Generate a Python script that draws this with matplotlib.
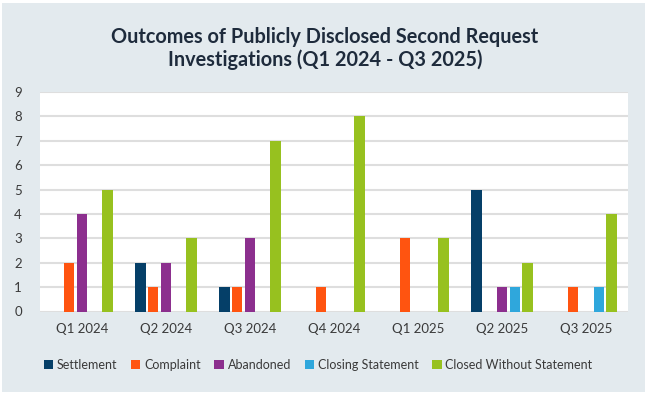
import matplotlib
matplotlib.use("Agg")
import matplotlib.pyplot as plt
import numpy as np
from matplotlib.patches import Rectangle

quarters = ["Q1 2024", "Q2 2024", "Q3 2024", "Q4 2024", "Q1 2025", "Q2 2025", "Q3 2025"]
settlement = [0, 2, 1, 0, 0, 5, 0]
complaint = [2, 1, 1, 1, 3, 0, 1]
abandoned = [4, 2, 3, 0, 0, 1, 0]
closing_statement = [0, 0, 0, 0, 0, 1, 1]
closed_without = [5, 3, 7, 8, 3, 2, 4]

series_names = ["Settlement", "Complaint", "Abandoned", "Closing Statement", "Closed Without Statement"]
series_vals = [settlement, complaint, abandoned, closing_statement, closed_without]
colors = ["#053f68", "#ff5410", "#8c2f8e", "#2fa7dc", "#97c11f"]

plt.rcParams['font.family'] = ['Lato', 'DejaVu Sans']

fig = plt.figure(figsize=(6.5, 3.95), dpi=100, facecolor="white")
bg = "#e3eaee"
fig.patches.append(Rectangle((2/650, 1-392/395), (645-2)/650, (392-3)/395,
                             transform=fig.transFigure, facecolor=bg, edgecolor="none", zorder=-10))

ax = fig.add_axes([40/650, 1-311.5/395, 588/650, (311.5-92)/395])
ax.set_facecolor("white")

x = np.arange(len(quarters))
slot = 0.152
width = 0.123
for i, (name, vals, c) in enumerate(zip(series_names, series_vals, colors)):
    ax.bar(x + (i - 2) * slot, vals, width=width, color=c, label=name, zorder=3)

ax.set_xlim(-0.5, 6.5)
ax.set_ylim(0, 9)
ax.set_yticks(range(0, 10))
ax.set_xticks(x)
ax.set_xticklabels(quarters)
ax.yaxis.grid(True, color="#dedede", linewidth=1.5, zorder=0)
ax.set_axisbelow(True)
for s in ax.spines.values():
    s.set_visible(False)
ax.tick_params(axis="both", length=0, labelsize=9.5, colors="#3a3a3a")
ax.tick_params(axis="y", pad=13)
ax.tick_params(axis="x", pad=8)

fig.text(0.5, 1-48.5/395, "Outcomes of Publicly Disclosed Second Request\nInvestigations (Q1 2024 - Q3 2025)",
         ha="center", va="center", fontsize=14.3, fontweight="bold", color="#1e2b3c", linespacing=1.2)

handles, labels = ax.get_legend_handles_labels()
leg = fig.legend(handles, labels, loc="center", bbox_to_anchor=(318/650, 1-365/395), ncol=5,
                 frameon=False, fontsize=9, handlelength=0.75, handleheight=0.75,
                 handletextpad=0.3, columnspacing=1.1, labelcolor="#3a3a3a")

fig.savefig("out.png", dpi=100, facecolor="white")
